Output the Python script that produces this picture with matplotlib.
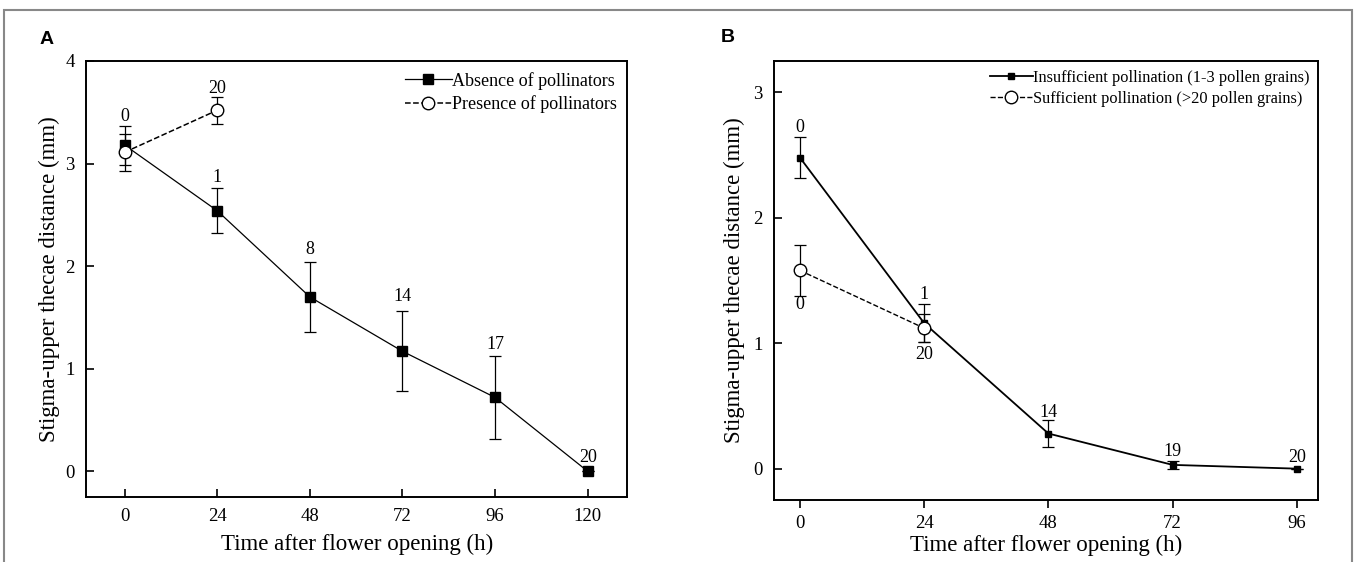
import matplotlib
matplotlib.use("Agg")
import matplotlib.pyplot as plt
from matplotlib.patches import Rectangle
from matplotlib.lines import Line2D

plt.rcParams['font.family'] = ['Liberation Serif', 'DejaVu Serif']

# Panel A data
a_x_abs = [0, 24, 48, 72, 96, 120]
a_y_abs = [3.18, 2.54, 1.70, 1.17, 0.72, 0.0]
a_e_abs = [0.19, 0.22, 0.34, 0.39, 0.40, 0.0]
a_n_abs = ["0", "1", "8", "14", "17", "20"]
a_x_pre = [0, 24]
a_y_pre = [3.11, 3.52]
a_e_pre = [0.18, 0.13]
a_n_pre = ["", "20"]
a_xticks = [0, 24, 48, 72, 96, 120]
a_yticks = [0, 1, 2, 3, 4]

# Panel B data
b_x_ins = [0, 24, 48, 72, 96]
b_y_ins = [2.48, 1.16, 0.28, 0.03, 0.0]
b_e_ins = [0.16, 0.15, 0.11, 0.03, 0.0]
b_n_ins = ["0", "1", "14", "19", "20"]
b_x_suf = [0, 24]
b_y_suf = [1.58, 1.12]
b_e_suf = [0.20, 0.11]
b_n_suf = ["0", "20"]
b_xticks = [0, 24, 48, 72, 96]
b_yticks = [0, 1, 2, 3]

TICK = 13.5
LAB = 16.5
ANN = 13

fig = plt.figure(figsize=(13.57, 5.62), dpi=100)
fig.patches.append(Rectangle((4/1357, -0.1), 1348/1357, 1 - 10/562 + 0.1,
                             transform=fig.transFigure, fill=False,
                             edgecolor='#888888', linewidth=1.5))

axA = fig.add_axes([0.0634, 0.1157, 0.3990, 0.7758])
axB = fig.add_axes([0.5704, 0.1103, 0.4009, 0.7812])

# ---- Panel A
axA.errorbar(a_x_abs, a_y_abs, yerr=a_e_abs, color='black', lw=0.9,
             marker='s', ms=7, mfc='black', mec='black', capsize=4, elinewidth=0.9,
             capthick=0.9, zorder=3)
axA.errorbar(a_x_pre, a_y_pre, yerr=a_e_pre, color='black', lw=1.1, ls='--',
             marker='o', ms=9, mfc='white', mec='black', capsize=4, elinewidth=0.9,
             capthick=0.9, zorder=4)
a_offs = [0.28, 0.32, 0.46, 0.53, 0.52, 0.13]
for x, y, n, o in zip(a_x_abs, a_y_abs, a_n_abs, a_offs):
    axA.text(x, y + o, n, ha='center', va='center', fontsize=ANN)
for x, y, n in zip(a_x_pre, a_y_pre, a_n_pre):
    if n:
        axA.text(x, y + 0.215, n, ha='center', va='center', fontsize=ANN)
axA.set_xlim(-10, 130.3)
axA.set_ylim(-0.25, 4)
axA.set_xticks(a_xticks)
axA.set_yticks(a_yticks)
axA.tick_params(direction='in', length=6, width=1.2, labelsize=TICK, pad=8)
axA.set_xlabel('Time after flower opening (h)', fontsize=LAB, labelpad=6)
axA.set_ylabel('Stigma-upper thecae distance (mm)', fontsize=LAB, labelpad=4)
for s in axA.spines.values():
    s.set_linewidth(1.4)
hA = [Line2D([], [], color='black', lw=0.9, marker='s', ms=7, mfc='black', mec='black'),
      Line2D([], [], color='black', lw=1.1, ls='--', marker='o', ms=9, mfc='white', mec='black')]
axA.legend(hA, ['Absence of pollinators', 'Presence of pollinators'],
           loc='upper right', frameon=False, fontsize=13,
           handlelength=2.6, handletextpad=0.0, borderaxespad=0.2,
           labelspacing=0.3)
fig.text(40/1357, 1 - 40/562, 'A', fontsize=14, fontweight='bold',
         family='Liberation Sans', ha='left', va='center')

# ---- Panel B
axB.errorbar(b_x_ins, b_y_ins, yerr=b_e_ins, color='black', lw=1.3,
             marker='s', ms=4.2, mfc='black', mec='black', capsize=4, elinewidth=0.9,
             capthick=0.9, zorder=3)
axB.errorbar(b_x_suf, b_y_suf, yerr=b_e_suf, color='black', lw=1.0, ls='--',
             marker='o', ms=9, mfc='white', mec='black', capsize=4, elinewidth=0.9,
             capthick=0.9, zorder=4)
b_ins_offs = [0.24, 0.23, 0.17, 0.11, 0.09]
for x, y, n, o in zip(b_x_ins, b_y_ins, b_n_ins, b_ins_offs):
    axB.text(x, y + o, n, ha='center', va='center', fontsize=ANN)
b_suf_offs = [-0.27, -0.21]
for x, y, n, o in zip(b_x_suf, b_y_suf, b_n_suf, b_suf_offs):
    axB.text(x, y + o, n, ha='center', va='center', fontsize=ANN)
axB.set_xlim(-5, 100.1)
axB.set_ylim(-0.25, 3.25)
axB.set_xticks(b_xticks)
axB.set_yticks(b_yticks)
axB.tick_params(axis='y', direction='in', length=6, width=1.2, labelsize=TICK, pad=8)
axB.tick_params(axis='x', direction='out', length=6, width=1.2, labelsize=TICK, pad=5)
axB.set_xlabel('Time after flower opening (h)', fontsize=LAB, labelpad=2)
axB.set_ylabel('Stigma-upper thecae distance (mm)', fontsize=LAB, labelpad=6)
for s in axB.spines.values():
    s.set_linewidth(1.4)
hB = [Line2D([], [], color='black', lw=1.3, marker='s', ms=4.2, mfc='black', mec='black'),
      Line2D([], [], color='black', lw=1.0, ls='--', marker='o', ms=9, mfc='white', mec='black')]
axB.legend(hB, ['Insufficient pollination (1-3 pollen grains)',
                'Sufficient pollination (>20 pollen grains)'],
           loc='upper right', frameon=False, fontsize=11.8,
           handlelength=2.6, handletextpad=0.0, borderaxespad=0.15,
           labelspacing=0.3)
fig.text(728/1357, 1 - 38/562, 'B', fontsize=14, fontweight='bold',
         family='Liberation Sans', ha='center', va='center')

fig.savefig('out.png', dpi=100)
